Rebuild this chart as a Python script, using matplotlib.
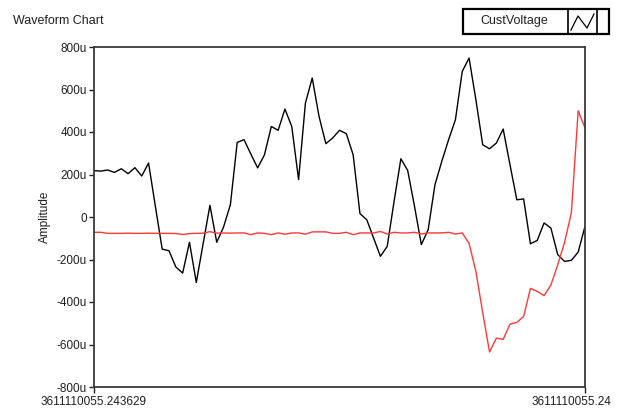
import numpy as np
import matplotlib
matplotlib.use("Agg")
import matplotlib.pyplot as plt
from matplotlib.patches import Rectangle
from matplotlib.lines import Line2D
import matplotlib.transforms as mtrans

plt.rcParams['font.family'] = ['Liberation Sans', 'DejaVu Sans']

# ---- data (micro-volts) ----
black_values = [218, 216, 221, 210, 227, 204, 232, 193, 254, 50,
                -151, -159, -235, -264, -119, -308, -126, 55, -119, -47,
                58, 351, 364, 296, 231, 293, 426, 408, 508, 426,
                176, 536, 654, 473, 345, 372, 408, 392, 293, 16,
                -13, -99, -185, -138, 73, 274, 219, 50, -130, -60,
                152, 262, 364, 458, 685, 748, 552, 340, 321, 348,
                414, 246, 81, 85, -126, -110, -28, -52, -177, -209,
                -204, -165, -44]
red_values = [-72, -72, -77, -77, -77, -76, -77, -77, -76, -77,
              -77, -77, -78, -82, -78, -77, -76, -69, -76, -75,
              -76, -75, -75, -83, -75, -77, -83, -75, -81, -75,
              -75, -81, -70, -70, -70, -77, -77, -72, -83, -75,
              -75, -75, -68, -80, -72, -75, -75, -72, -80, -75,
              -75, -75, -72, -80, -75, -124, -256, -450, -635, -570,
              -576, -504, -496, -468, -336, -350, -370, -320, -225, -120,
              20, 500, 419]
y_ticks = [-800, -600, -400, -200, 0, 200, 400, 600, 800]
y_tick_labels = ['-800u', '-600u', '-400u', '-200u', '0', '200u', '400u', '600u', '800u']
x_tick_labels = ['3611110055.243629', '3611110055.24']
title_text = 'Waveform Chart'
y_label = 'Amplitude'
legend_label = 'CustVoltage'

W, H = 620, 413
fig = plt.figure(figsize=(W / 100, H / 100), dpi=100)
fig.patch.set_facecolor('white')

L, R, T, B = 94, 585, 47, 387
ax = fig.add_axes([L / W, 1 - B / H, (R - L) / W, (B - T) / H])

x = np.arange(len(black_values))
ax.plot(x, black_values, color='#000000', lw=1.0)
ax.plot(x, red_values, color='#ff3838', lw=1.0)

ax.set_xlim(0, len(black_values) - 1)
ax.set_ylim(-800, 800)

ax.set_yticks(y_ticks)
ax.set_yticklabels(y_tick_labels)
ax.set_xticks([0, len(black_values) - 1])
ax.set_xticklabels(x_tick_labels)

for s in ax.spines.values():
    s.set_color('#3a3a3a')
    s.set_linewidth(1.3)

ax.tick_params(axis='y', direction='out', length=3.5, width=1.0, pad=1.5,
               labelsize=8.5, colors='#202020')
ax.tick_params(axis='x', direction='out', length=4.5, width=1.0, pad=2,
               labelsize=8.5, colors='#202020')

# shift right x label left, as in the reference
lbls = ax.get_xticklabels()
lbls[1].set_transform(lbls[1].get_transform() +
                      mtrans.ScaledTranslation(-14 / 100, 0, fig.dpi_scale_trans))

ax.set_ylabel(y_label, fontsize=8.5, color='#202020', labelpad=4)

fig.text(13 / W, 1 - 21 / H, title_text, fontsize=9, color='#202020',
         ha='left', va='center')

# legend box (LabVIEW style plot legend)
lx0, lx1, ly0, ly1 = 463, 609, 9, 34
fig.add_artist(Rectangle((lx0 / W, 1 - ly1 / H), (lx1 - lx0) / W, (ly1 - ly0) / H,
                         transform=fig.transFigure, facecolor='white',
                         edgecolor='black', lw=1.6))
ix0, ix1 = 568, 597
fig.add_artist(Line2D([ix0 / W, ix0 / W], [1 - ly1 / H, 1 - ly0 / H],
                      transform=fig.transFigure, color='black', lw=1.2))
fig.add_artist(Line2D([ix1 / W, ix1 / W], [1 - ly1 / H, 1 - ly0 / H],
                      transform=fig.transFigure, color='black', lw=1.2))
zx = [571, 578, 587, 594]
zy = [30, 16, 28, 14]
fig.add_artist(Line2D([v / W for v in zx], [1 - v / H for v in zy],
                      transform=fig.transFigure, color='black', lw=0.9))
fig.text(514 / W, 1 - 21 / H, legend_label, fontsize=9, color='#202020',
         ha='center', va='center')

fig.savefig('out.png', dpi=100)
